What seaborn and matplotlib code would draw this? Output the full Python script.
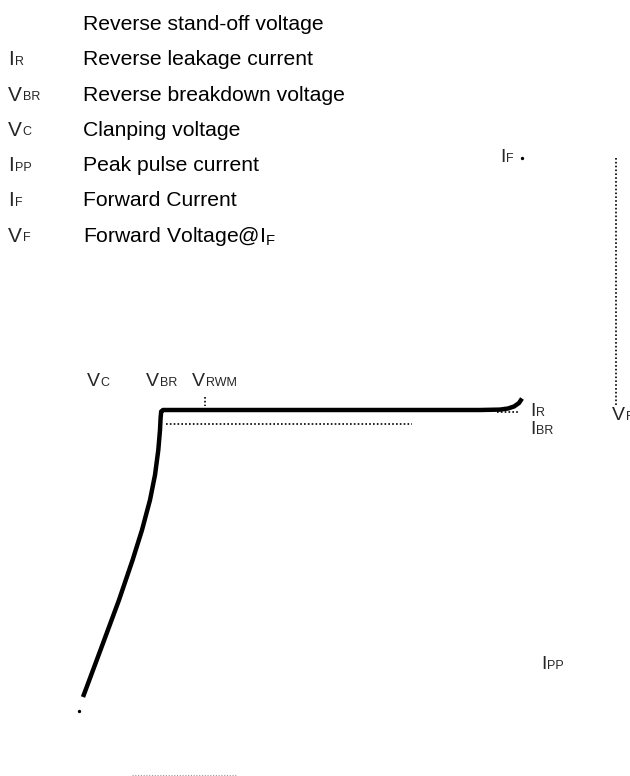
import matplotlib
matplotlib.use('Agg')
import matplotlib.pyplot as plt
import seaborn as sns

sns.set_theme(style='white')
plt.rcParams['font.family'] = ['Liberation Sans', 'DejaVu Sans']

# Parameter list (symbol, subscript, description)
legend_main = ['', 'I', 'V', 'V', 'I', 'I', 'V']
legend_sub = ['', 'R', 'BR', 'C', 'PP', 'F', 'F']
legend_desc = ['Reverse stand-off voltage', 'Reverse leakage current',
               'Reverse breakdown voltage', 'Clanping voltage',
               'Peak pulse current', 'Forward Current',
               'Forward Voltage@I$_\\mathregular{F}$']

# I-V curve of the TVS diode (drawing units, y grows downward)
curve_x = [83, 100.5, 119, 132.6, 142, 150, 155, 158.3, 160, 160.6, 161.2, 163,
           200, 300, 400, 480, 500, 508, 514, 519, 522]
curve_y = [697, 650, 600, 560, 530, 500, 475, 450, 430, 418, 411.5, 410,
           410, 410, 410, 410, 409.6, 408.5, 406.5, 403, 398.5]


def sym(ax, x, y, main, sub, size=15, subsize=9, **kw):
    t = ax.text(x, y, main, fontsize=size, va='baseline', ha='left', **kw)
    ax.annotate(sub, xy=(1, 0), xycoords=t, xytext=(0.6, 0.212 * size),
                textcoords='offset points', fontsize=subsize,
                va='baseline', ha='left', **kw)
    return t


fig = plt.figure(figsize=(6.3, 7.76), dpi=100)
ax = fig.add_axes([0, 0, 1, 1])
ax.set_xlim(0, 630)
ax.set_ylim(776, 0)
ax.axis('off')

# list of parameters
for i, (m, s, d) in enumerate(zip(legend_main, legend_sub, legend_desc)):
    yb = 30 + 35.3 * i
    if m:
        sym(ax, 8, yb, m, s)
    ax.text(83, yb, d, fontsize=15.2, va='baseline', ha='left', color='black')

# curve
sns.lineplot(x=curve_x, y=curve_y, sort=False, estimator=None, color='black',
             lw=3.2, ax=ax, solid_capstyle='butt')

dot = dict(color='black', lw=1.2, linestyle=(0, (1, 1.3)))
ax.plot([166, 412], [424, 424], **dot)
ax.plot([497, 520], [411.5, 411.5], **dot)
ax.plot([205, 205], [397, 406], **dot)
ax.plot([616, 616], [158, 405], **dot)
ax.plot([132, 236], [775, 775], color='#999999', lw=0.8, linestyle=(0, (1, 1.5)))
ax.plot([522], [158], marker='o', ms=1.4, color='black')
ax.plot([79], [711], marker='o', ms=1.4, color='black')

# diagram labels
sym(ax, 87, 386, 'V', 'C', size=14, subsize=9)
sym(ax, 146, 386, 'V', 'BR', size=14, subsize=9)
sym(ax, 192, 386, 'V', 'RWM', size=14, subsize=9)
sym(ax, 530, 416, 'I', 'R', size=14, subsize=9)
sym(ax, 530, 434, 'I', 'BR', size=14, subsize=9)
sym(ax, 612, 420, 'V', 'F', size=14, subsize=9)
sym(ax, 500, 162, 'I', 'F', size=14, subsize=9)
sym(ax, 541, 669, 'I', 'PP', size=14, subsize=9)

fig.savefig('out.png', dpi=100)
